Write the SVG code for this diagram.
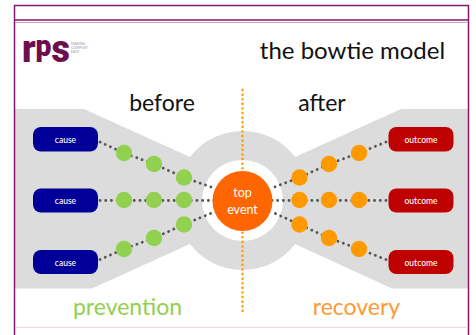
<svg xmlns="http://www.w3.org/2000/svg" width="476" height="335" viewBox="0 0 476 335">
<style>
text{font-family:Lato,"Open Sans","Liberation Sans",sans-serif}
.frame{fill:none;stroke:#84186a;stroke-width:1.5}
.box{stroke:none}
.cause{fill:#000099}
.outcome{fill:#bf0000}
.lbl{fill:#fff;font-size:8.500px;text-anchor:middle;font-weight:500}
.head{fill:#111;text-anchor:middle}
.link{fill:none;stroke:#555;stroke-width:2.800;stroke-linecap:round;stroke-dasharray:.1 5.600}
.g{fill:#92d050}
.o{fill:#ff9900}
</style>
<rect width="476" height="335" fill="#fff"/>
<path id="bowtie" d="M15 109H84L190 157A66 66 0 0 1 295 157L401 109H468V288.500H392L295 244A66 66 0 0 1 190 244L92 288.500H15Z" fill="#dcdcdc"/>
<circle id="halo" cx="242.500" cy="200.500" r="40.500" fill="#fff"/>
<g id="frame">
<path class="frame" d="M14.500 335V5.500H468.500V335"/>
<path class="frame" d="M15 20H468"/>
<path d="M15 22.500H468" stroke="#c9a0bd" stroke-width="1" fill="none"/>
<path d="M15 327.500H468" stroke="#ead8e6" stroke-width="1" fill="none"/>
</g>
<g id="logo">
<text x="22" y="62" font-weight="900" fill="#6d0f4f" textLength="48" lengthAdjust="spacingAndGlyphs" style="font-family:Roboto,'Liberation Sans',sans-serif"><tspan font-size="38">r</tspan><tspan font-size="30" dy="-6">p</tspan><tspan font-size="38" dy="6">s</tspan></text>
<g fill="#999" font-size="3.500"><text x="71" y="44.500">MAKING</text><text x="71" y="48.500">COMPLEX</text><text x="71" y="52.500">EASY</text></g>
</g>
<text id="title" x="352.500" y="59" class="head" font-size="24">the bowtie model</text>
<text id="before" x="162" y="111" class="head" font-size="23">before</text>
<text id="after" x="322" y="111" class="head" font-size="23">after</text>
<path id="divider" d="M242.500 90V313" fill="none" stroke="#ff9900" stroke-width="2.400" stroke-linecap="round" stroke-dasharray=".1 4.500"/>
<g id="connectors">
<path class="link" d="M100 142L124 153L154 164L184 177.500L214 188"/>
<path class="link" d="M100 200.500H214"/>
<path class="link" d="M100 259.500L124 249L154 238L184 224.500L214 212"/>
<path class="link" d="M386 142L359 153L329 164L299.500 177.500L272 188"/>
<path class="link" d="M386 200.500H272"/>
<path class="link" d="M386 259.500L359 249L329 238L299.500 224.500L272 212"/>
</g>
<g id="barriers">
<circle class="g" cx="124" cy="153" r="8.200"/><circle class="g" cx="154" cy="164" r="8.200"/><circle class="g" cx="184" cy="177.500" r="8.200"/>
<circle class="g" cx="124" cy="200" r="8.200"/><circle class="g" cx="154" cy="200" r="8.200"/><circle class="g" cx="184" cy="200" r="8.200"/>
<circle class="g" cx="124" cy="249" r="8.200"/><circle class="g" cx="154" cy="238" r="8.200"/><circle class="g" cx="184" cy="224.500" r="8.200"/>
<circle class="o" cx="359" cy="153" r="8.200"/><circle class="o" cx="329" cy="164" r="8.200"/><circle class="o" cx="299.500" cy="177.500" r="8.200"/>
<circle class="o" cx="359" cy="200" r="8.200"/><circle class="o" cx="329" cy="200" r="8.200"/><circle class="o" cx="299.500" cy="200" r="8.200"/>
<circle class="o" cx="359" cy="249" r="8.200"/><circle class="o" cx="329" cy="238" r="8.200"/><circle class="o" cx="299.500" cy="224.500" r="8.200"/>
</g>
<g id="cause1"><rect class="box cause" x="33" y="127" width="65" height="24.500" rx="8"/><text class="lbl" x="65.500" y="143">cause</text></g>
<g id="cause2"><rect class="box cause" x="33" y="188.500" width="65" height="24" rx="8"/><text class="lbl" x="65.500" y="204">cause</text></g>
<g id="cause3"><rect class="box cause" x="33" y="250" width="65" height="24" rx="8"/><text class="lbl" x="65.500" y="265.500">cause</text></g>
<g id="outcome1"><rect class="box outcome" x="388.500" y="127" width="65" height="24.500" rx="8"/><text class="lbl" x="421" y="143">outcome</text></g>
<g id="outcome2"><rect class="box outcome" x="388.500" y="188.500" width="65" height="24" rx="8"/><text class="lbl" x="421" y="204">outcome</text></g>
<g id="outcome3"><rect class="box outcome" x="388.500" y="250" width="65" height="24" rx="8"/><text class="lbl" x="421" y="265.500">outcome</text></g>
<g id="top-event">
<circle cx="242.500" cy="201" r="30" fill="#ff6600"/>
<text x="242.500" y="197" fill="#fff" font-size="12.500" text-anchor="middle">top</text>
<text x="242.500" y="213.500" fill="#fff" font-size="12.500" text-anchor="middle">event</text>
</g>
<text id="prevention" x="127.500" y="315" fill="#92d050" font-size="23" text-anchor="middle">prevention</text>
<text id="recovery" x="356.500" y="315" fill="#ff9933" font-size="23" text-anchor="middle">recovery</text>
</svg>
